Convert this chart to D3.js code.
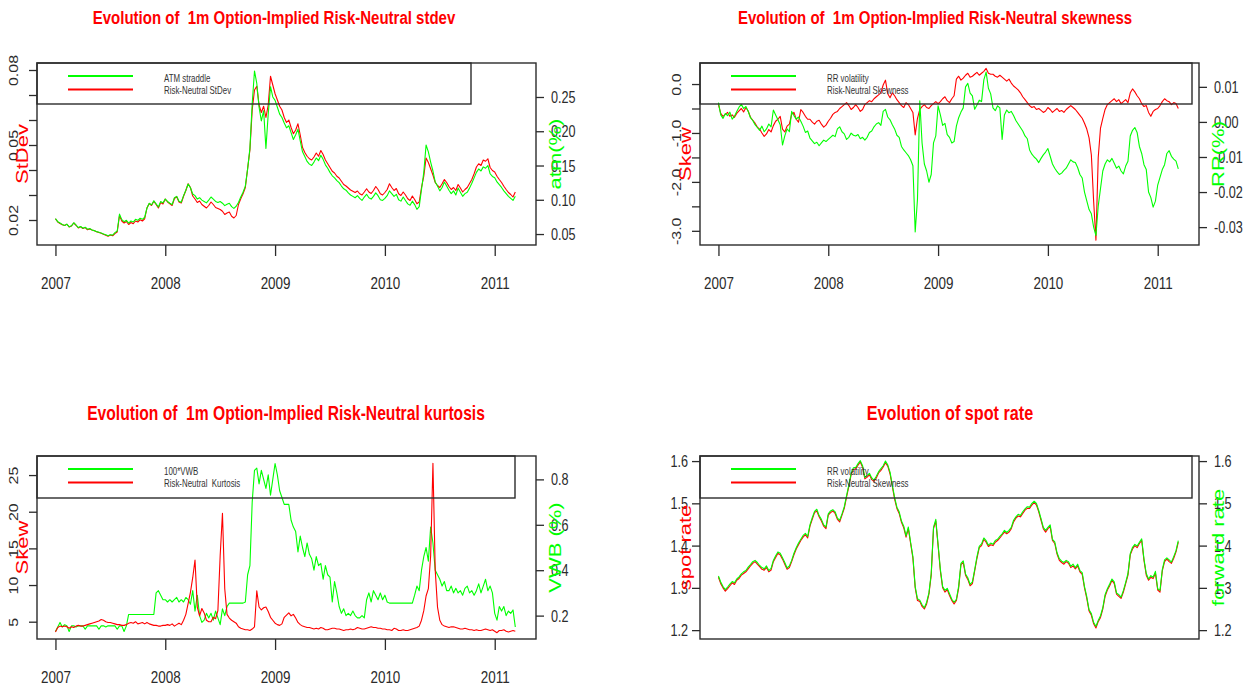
<!DOCTYPE html>
<html>
<head>
<meta charset="utf-8">
<script src="https://cdn.jsdelivr.net/npm/d3@7"></script>
<style>
  body { margin: 0; background: #fff; }
</style>
</head>
<body>
<div id="viz"></div>
<script>
// weekly readings (4 per month), Jan 2007 .. mid Mar 2011, one row per year
const stdevRN = [
  0.0205, 0.0192, 0.0186, 0.0181, 0.0178, 0.0183, 0.0172, 0.0176, 0.0188, 0.0179, 0.0168, 0.0173,
  0.0166, 0.0170, 0.0161, 0.0164, 0.0160, 0.0157, 0.0153, 0.0150, 0.0147, 0.0143, 0.0139, 0.0135,
  0.0140, 0.0137, 0.0146, 0.0152, 0.0218, 0.0196, 0.0188, 0.0194, 0.0182, 0.0190, 0.0185, 0.0196,
  0.0192, 0.0201, 0.0196, 0.0205, 0.0248, 0.0266, 0.0258, 0.0275, 0.0262, 0.0248, 0.0270, 0.0264,
  0.0284, 0.0272, 0.0265, 0.0258, 0.0286, 0.0293, 0.0272, 0.0268, 0.0295, 0.0318, 0.0345, 0.0330,
  0.0296, 0.0284, 0.0270, 0.0276, 0.0262, 0.0255, 0.0248, 0.0258, 0.0272, 0.0262, 0.0250, 0.0246,
  0.0242, 0.0235, 0.0222, 0.0228, 0.0232, 0.0215, 0.0208, 0.0218, 0.0262, 0.0285, 0.0305, 0.0330,
  0.0405, 0.0480, 0.0640, 0.0720, 0.0735, 0.0660, 0.0630, 0.0655, 0.0610, 0.0660, 0.0775, 0.0740,
  0.0705, 0.0680, 0.0655, 0.0640, 0.0610, 0.0590, 0.0600, 0.0570, 0.0545, 0.0560, 0.0585, 0.0540,
  0.0490, 0.0470, 0.0455, 0.0445, 0.0440, 0.0452, 0.0468, 0.0455, 0.0478, 0.0462, 0.0440, 0.0425,
  0.0410, 0.0395, 0.0388, 0.0375, 0.0368, 0.0355, 0.0342, 0.0336, 0.0328, 0.0320, 0.0315, 0.0310,
  0.0316, 0.0305, 0.0300, 0.0312, 0.0325, 0.0312, 0.0306, 0.0318, 0.0334, 0.0322, 0.0305, 0.0300,
  0.0310, 0.0322, 0.0345, 0.0330, 0.0318, 0.0326, 0.0305, 0.0298, 0.0312, 0.0300, 0.0285, 0.0278,
  0.0296, 0.0282, 0.0265, 0.0272, 0.0330, 0.0375, 0.0448, 0.0430, 0.0405, 0.0380, 0.0350, 0.0338,
  0.0330, 0.0345, 0.0362, 0.0350, 0.0334, 0.0322, 0.0330, 0.0318, 0.0342, 0.0328, 0.0312, 0.0322,
  0.0330, 0.0346, 0.0362, 0.0385, 0.0412, 0.0425, 0.0418, 0.0440, 0.0435, 0.0445, 0.0410, 0.0398,
  0.0392, 0.0375, 0.0362, 0.0350, 0.0335, 0.0322, 0.0310, 0.0302, 0.0292, 0.0312
];
const atmStraddle = [
  0.0725, 0.0680, 0.0660, 0.0640, 0.0625, 0.0645, 0.0605, 0.0620, 0.0665, 0.0630, 0.0595, 0.0610,
  0.0585, 0.0600, 0.0570, 0.0580, 0.0560, 0.0550, 0.0535, 0.0525, 0.0515, 0.0500, 0.0490, 0.0475,
  0.0490, 0.0485, 0.0520, 0.0545, 0.0790, 0.0710, 0.0680, 0.0700, 0.0660, 0.0690, 0.0675, 0.0715,
  0.0700, 0.0730, 0.0715, 0.0745, 0.0880, 0.0950, 0.0925, 0.0985, 0.0940, 0.0895, 0.0975, 0.0955,
  0.1010, 0.0975, 0.0950, 0.0930, 0.1030, 0.1050, 0.0980, 0.0965, 0.1060, 0.1140, 0.1230, 0.1175,
  0.1085, 0.1060, 0.1010, 0.1030, 0.0995, 0.0975, 0.0955, 0.0995, 0.1040, 0.1010, 0.0975, 0.0960,
  0.0975, 0.0950, 0.0915, 0.0935, 0.0950, 0.0900, 0.0875, 0.0905, 0.0960, 0.1040, 0.1110, 0.1200,
  0.1450, 0.1750, 0.2400, 0.2880, 0.2700, 0.2350, 0.2150, 0.2300, 0.1750, 0.2250, 0.2650, 0.2500,
  0.2450, 0.2350, 0.2250, 0.2200, 0.2120, 0.2050, 0.2080, 0.1980, 0.1880, 0.1950, 0.2030, 0.1860,
  0.1700, 0.1630, 0.1560, 0.1520, 0.1500, 0.1550, 0.1610, 0.1570, 0.1650, 0.1590, 0.1510, 0.1460,
  0.1400, 0.1350, 0.1320, 0.1280, 0.1250, 0.1200, 0.1160, 0.1140, 0.1100, 0.1070, 0.1050, 0.1030,
  0.1060, 0.1020, 0.0990, 0.1040, 0.1080, 0.1030, 0.1010, 0.1050, 0.1100, 0.1060, 0.1000, 0.0990,
  0.1020, 0.1060, 0.1130, 0.1090, 0.1050, 0.1080, 0.1000, 0.0980, 0.1040, 0.0990, 0.0940, 0.0920,
  0.0980, 0.0930, 0.0860, 0.0900, 0.1150, 0.1400, 0.1800, 0.1700, 0.1550, 0.1420, 0.1260, 0.1200,
  0.1130, 0.1180, 0.1260, 0.1200, 0.1140, 0.1090, 0.1130, 0.1070, 0.1170, 0.1110, 0.1050, 0.1090,
  0.1110, 0.1170, 0.1240, 0.1320, 0.1400, 0.1450, 0.1420, 0.1480, 0.1460, 0.1500, 0.1380, 0.1340,
  0.1320, 0.1260, 0.1220, 0.1180, 0.1130, 0.1090, 0.1050, 0.1020, 0.0990, 0.1050
];
const skewRN = [
  -0.42, -0.60, -0.66, -0.62, -0.58, -0.66, -0.63, -0.68, -0.60, -0.55, -0.50, -0.57,
  -0.48, -0.55, -0.68, -0.74, -0.80, -0.88, -0.92, -1.00, -1.07, -1.02, -0.93, -0.98,
  -0.85, -0.76, -0.72, -0.66, -0.92, -0.98, -0.86, -0.82, -0.62, -0.58, -0.72, -0.78,
  -0.52, -0.58, -0.66, -0.72, -0.72, -0.78, -0.82, -0.76, -0.74, -0.82, -0.88, -0.84,
  -0.76, -0.70, -0.62, -0.58, -0.56, -0.50, -0.46, -0.42, -0.38, -0.44, -0.52, -0.48,
  -0.42, -0.48, -0.56, -0.52, -0.42, -0.38, -0.34, -0.36, -0.30, -0.26, -0.22, -0.18,
  -0.02, 0.08, -0.20, -0.28, -0.18, -0.24, -0.32, -0.38, -0.44, -0.48, -0.38, -0.42,
  -0.50, -0.58, -1.04, -0.70, -0.52, -0.46, -0.42, -0.48, -0.50, -0.44, -0.40, -0.36,
  -0.40, -0.36, -0.30, -0.26, -0.34, -0.38, -0.30, -0.24, 0.10, 0.16, 0.08, 0.12,
  0.18, 0.22, 0.14, 0.16, 0.20, 0.24, 0.18, 0.22, 0.26, 0.32, 0.22, 0.20,
  0.20, 0.16, 0.14, 0.18, 0.14, 0.10, 0.06, 0.10, 0.02, -0.04, -0.08, -0.12,
  -0.18, -0.26, -0.32, -0.38, -0.44, -0.48, -0.46, -0.52, -0.50, -0.54, -0.58, -0.55,
  -0.48, -0.52, -0.58, -0.54, -0.50, -0.56, -0.54, -0.58, -0.52, -0.48, -0.44, -0.48,
  -0.52, -0.58, -0.64, -0.70, -0.80, -0.92, -1.10, -1.45, -2.40, -3.19, -1.50, -0.90,
  -0.70, -0.52, -0.42, -0.38, -0.34, -0.30, -0.36, -0.32, -0.40, -0.36, -0.32, -0.38,
  -0.18, -0.10, -0.16, -0.24, -0.30, -0.40, -0.46, -0.44, -0.58, -0.66, -0.56, -0.52,
  -0.50, -0.44, -0.36, -0.30, -0.34, -0.36, -0.42, -0.38, -0.40, -0.50
];
const rrVol = [
  0.0055, 0.0020, 0.0010, 0.0024, 0.0018, 0.0028, 0.0008, 0.0016, 0.0030, 0.0042, 0.0050, 0.0038,
  0.0044, 0.0030, 0.0012, 0.0004, -0.0008, -0.0016, -0.0024, -0.0012, -0.0028, -0.0020, -0.0006, -0.0014,
  0.0034, 0.0020, 0.0006, -0.0008, -0.0066, -0.0040, -0.0020, -0.0028, 0.0030, 0.0018, 0.0008, 0.0014,
  0.0002, -0.0012, -0.0030, -0.0026, -0.0046, -0.0054, -0.0062, -0.0058, -0.0068, -0.0060, -0.0052, -0.0056,
  -0.0050, -0.0044, -0.0038, -0.0042, -0.0020, -0.0014, -0.0028, -0.0034, -0.0050, -0.0044, -0.0032, -0.0038,
  -0.0040, -0.0036, -0.0048, -0.0044, -0.0052, -0.0044, -0.0030, -0.0026, -0.0014, -0.0006, -0.0002, -0.0010,
  0.0030, 0.0036, 0.0014, 0.0006, -0.0008, -0.0020, -0.0038, -0.0044, -0.0070, -0.0080, -0.0088, -0.0096,
  -0.0108, -0.0125, -0.0314, -0.0220, 0.0060, -0.0060, -0.0120, -0.0140, -0.0172, -0.0150, -0.0060, -0.0040,
  0.0046, 0.0020, -0.0010, -0.0004, -0.0036, -0.0044, -0.0060, -0.0056, -0.0012, 0.0012, 0.0028, 0.0040,
  0.0100, 0.0110, 0.0082, 0.0074, 0.0036, 0.0048, 0.0062, 0.0058, 0.0120, 0.0142, 0.0096, 0.0080,
  0.0040, 0.0032, 0.0046, 0.0040, -0.0050, 0.0020, 0.0034, 0.0026, 0.0030, 0.0018, 0.0004, -0.0006,
  -0.0016, -0.0026, -0.0040, -0.0048, -0.0080, -0.0092, -0.0100, -0.0106, -0.0116, -0.0104, -0.0094, -0.0086,
  -0.0076, -0.0098, -0.0120, -0.0132, -0.0142, -0.0150, -0.0146, -0.0138, -0.0132, -0.0120, -0.0108, -0.0114,
  -0.0116, -0.0130, -0.0150, -0.0160, -0.0200, -0.0225, -0.0250, -0.0262, -0.0300, -0.0324, -0.0240, -0.0190,
  -0.0140, -0.0120, -0.0108, -0.0114, -0.0104, -0.0118, -0.0132, -0.0126, -0.0140, -0.0148, -0.0126, -0.0112,
  -0.0040, -0.0024, -0.0016, -0.0030, -0.0070, -0.0090, -0.0122, -0.0136, -0.0200, -0.0216, -0.0243, -0.0226,
  -0.0180, -0.0158, -0.0136, -0.0122, -0.0090, -0.0082, -0.0098, -0.0106, -0.0112, -0.0134
];
const kurtRN = [
  3.6, 4.2, 4.4, 4.3, 4.4, 4.3, 4.1, 4.3, 4.2, 4.4, 4.5, 4.4,
  4.4, 4.5, 4.6, 4.7, 4.8, 4.9, 5.0, 5.1, 5.3, 5.2, 5.0, 4.9,
  4.9, 4.8, 4.7, 4.6, 4.6, 4.5, 4.5, 4.6, 4.8, 4.9, 4.8, 5.0,
  4.7, 4.8, 4.9, 4.7, 4.9, 4.7, 4.6, 4.5, 4.5, 4.4, 4.4, 4.5,
  4.5, 4.6, 4.5, 4.7, 4.4, 4.6, 4.8, 4.6, 5.2, 6.0, 7.5, 9.0,
  11.0, 13.4, 7.0, 5.8, 6.8, 6.2, 5.2, 5.0, 5.0, 5.6, 5.4, 6.5,
  14.0, 19.8, 9.5, 6.0, 5.5, 5.2, 5.0, 4.8, 4.3, 4.1, 4.0, 3.9,
  3.9, 3.8, 4.0, 4.3, 9.2, 7.0, 6.6, 6.9, 7.0, 6.4, 5.6, 5.2,
  4.8, 4.6, 4.5, 4.7, 5.6, 5.9, 6.2, 5.8, 6.0, 5.5, 4.9, 4.6,
  4.4, 4.3, 4.2, 4.2, 4.1, 4.0, 4.1, 4.0, 4.2, 4.1, 3.9, 3.9,
  4.0, 4.1, 4.1, 4.0, 4.0, 3.9, 3.8, 3.9, 3.9, 4.0, 3.9, 4.0,
  4.2, 4.1, 4.0, 4.0, 4.1, 4.2, 4.3, 4.2, 4.2, 4.1, 4.1, 4.0,
  4.0, 3.9, 3.9, 3.8, 4.1, 4.0, 3.8, 3.8, 3.9, 3.8, 3.8, 3.9,
  4.0, 4.1, 4.2, 4.4, 5.2, 6.5, 8.5, 9.5, 14.0, 26.6, 12.0, 7.0,
  5.2, 4.6, 4.4, 4.3, 4.2, 4.3, 4.3, 4.2, 4.1, 4.0, 4.0, 4.1,
  4.0, 3.9, 3.9, 3.8, 3.9, 3.8, 3.8, 3.9, 4.0, 3.9, 3.8, 3.9,
  3.7, 3.5, 3.8, 3.8, 3.9, 3.7, 3.6, 3.7, 3.8, 3.7
];
const vwb = [
  0.13, 0.15, 0.17, 0.15, 0.16, 0.155, 0.13, 0.155, 0.155, 0.15, 0.155, 0.155,
  0.155, 0.14, 0.155, 0.155, 0.155, 0.155, 0.155, 0.14, 0.155, 0.155, 0.15, 0.155,
  0.155, 0.155, 0.155, 0.14, 0.155, 0.155, 0.13, 0.155, 0.205, 0.205, 0.205, 0.205,
  0.205, 0.205, 0.205, 0.205, 0.205, 0.205, 0.205, 0.205, 0.30, 0.31, 0.29, 0.27,
  0.27, 0.26, 0.27, 0.26, 0.27, 0.28, 0.26, 0.27, 0.26, 0.28, 0.27, 0.25,
  0.31, 0.22, 0.29, 0.20, 0.17, 0.18, 0.21, 0.19, 0.21, 0.18, 0.22, 0.19,
  0.16, 0.23, 0.20, 0.24, 0.255, 0.255, 0.255, 0.255, 0.255, 0.255, 0.255, 0.26,
  0.38, 0.42, 0.70, 0.84, 0.85, 0.78, 0.84, 0.80, 0.76, 0.82, 0.73, 0.80,
  0.87, 0.82, 0.75, 0.72, 0.69, 0.69, 0.69, 0.62, 0.59, 0.57, 0.48, 0.55,
  0.50, 0.46, 0.52, 0.47, 0.45, 0.40, 0.46, 0.42, 0.43, 0.36, 0.42, 0.38,
  0.37, 0.26, 0.35, 0.30, 0.24, 0.21, 0.23, 0.20, 0.21, 0.20, 0.22, 0.20,
  0.19, 0.19, 0.20, 0.19, 0.27, 0.30, 0.26, 0.31, 0.29, 0.27, 0.30, 0.27,
  0.29, 0.26, 0.255, 0.255, 0.255, 0.255, 0.255, 0.255, 0.255, 0.255, 0.255, 0.255,
  0.255, 0.29, 0.33, 0.31, 0.40, 0.46, 0.50, 0.44, 0.59, 0.52, 0.40, 0.38,
  0.36, 0.33, 0.35, 0.31, 0.31, 0.33, 0.30, 0.32, 0.30, 0.31, 0.29, 0.32,
  0.33, 0.30, 0.31, 0.29, 0.31, 0.34, 0.30, 0.33, 0.36, 0.31, 0.33, 0.30,
  0.21, 0.18, 0.24, 0.22, 0.24, 0.20, 0.22, 0.21, 0.225, 0.15
];
const spotRate = [
  1.325, 1.310, 1.300, 1.292, 1.298, 1.305, 1.312, 1.308, 1.318, 1.322, 1.330, 1.334,
  1.338, 1.345, 1.352, 1.358, 1.362, 1.356, 1.350, 1.344, 1.342, 1.348, 1.338, 1.342,
  1.362, 1.372, 1.382, 1.378, 1.368, 1.356, 1.344, 1.348, 1.362, 1.378, 1.392, 1.402,
  1.412, 1.420, 1.426, 1.418, 1.446, 1.462, 1.478, 1.482, 1.468, 1.458, 1.446, 1.440,
  1.472, 1.478, 1.482, 1.476, 1.462, 1.456, 1.472, 1.488, 1.515, 1.540, 1.568, 1.580,
  1.582, 1.590, 1.598, 1.585, 1.558, 1.562, 1.568, 1.556, 1.552, 1.560, 1.572, 1.578,
  1.586, 1.596, 1.588, 1.570, 1.540, 1.510, 1.488, 1.476, 1.455, 1.442, 1.420, 1.440,
  1.405, 1.370, 1.300, 1.270, 1.268, 1.256, 1.250, 1.262, 1.285, 1.330, 1.440, 1.458,
  1.400, 1.340, 1.300, 1.290, 1.296, 1.282, 1.270, 1.262, 1.270, 1.300, 1.355, 1.360,
  1.330, 1.320, 1.305, 1.310, 1.340, 1.370, 1.395, 1.400, 1.415, 1.408, 1.398, 1.402,
  1.400, 1.408, 1.412, 1.418, 1.425, 1.432, 1.428, 1.432, 1.440, 1.456, 1.465, 1.470,
  1.468, 1.476, 1.484, 1.488, 1.488, 1.496, 1.502, 1.496, 1.480, 1.460, 1.440, 1.432,
  1.440, 1.445, 1.412, 1.405, 1.380, 1.365, 1.360, 1.356, 1.362, 1.358, 1.348, 1.352,
  1.345, 1.352, 1.338, 1.332, 1.300, 1.275, 1.245, 1.235, 1.215, 1.205, 1.220, 1.230,
  1.250, 1.280, 1.295, 1.305, 1.318, 1.310, 1.285, 1.280, 1.275, 1.290, 1.310, 1.330,
  1.378, 1.392, 1.400, 1.395, 1.405, 1.412, 1.365, 1.330, 1.318, 1.325, 1.322, 1.335,
  1.295, 1.290, 1.340, 1.362, 1.368, 1.362, 1.358, 1.370, 1.385, 1.408
];
const fwdRate = [
  1.328, 1.314, 1.303, 1.296, 1.302, 1.309, 1.315, 1.312, 1.321, 1.326, 1.333, 1.338,
  1.341, 1.349, 1.355, 1.362, 1.365, 1.360, 1.353, 1.348, 1.345, 1.352, 1.341, 1.346,
  1.365, 1.376, 1.385, 1.382, 1.371, 1.360, 1.347, 1.352, 1.365, 1.382, 1.395, 1.406,
  1.415, 1.424, 1.429, 1.422, 1.449, 1.466, 1.481, 1.486, 1.471, 1.462, 1.449, 1.444,
  1.475, 1.482, 1.485, 1.480, 1.465, 1.460, 1.475, 1.492, 1.518, 1.544, 1.571, 1.584,
  1.585, 1.594, 1.601, 1.589, 1.561, 1.566, 1.571, 1.560, 1.555, 1.564, 1.575, 1.582,
  1.589, 1.600, 1.591, 1.574, 1.543, 1.514, 1.491, 1.480, 1.458, 1.446, 1.423, 1.444,
  1.408, 1.374, 1.303, 1.274, 1.271, 1.260, 1.253, 1.266, 1.288, 1.334, 1.443, 1.462,
  1.403, 1.344, 1.303, 1.294, 1.299, 1.286, 1.273, 1.266, 1.273, 1.304, 1.358, 1.364,
  1.333, 1.324, 1.308, 1.314, 1.343, 1.374, 1.398, 1.404, 1.418, 1.412, 1.401, 1.406,
  1.403, 1.412, 1.415, 1.422, 1.428, 1.436, 1.431, 1.436, 1.443, 1.460, 1.468, 1.474,
  1.471, 1.480, 1.487, 1.492, 1.491, 1.500, 1.505, 1.500, 1.483, 1.464, 1.443, 1.436,
  1.443, 1.449, 1.415, 1.409, 1.383, 1.369, 1.363, 1.360, 1.365, 1.362, 1.351, 1.356,
  1.348, 1.356, 1.341, 1.336, 1.303, 1.279, 1.248, 1.239, 1.218, 1.209, 1.223, 1.234,
  1.253, 1.284, 1.298, 1.309, 1.321, 1.314, 1.288, 1.284, 1.278, 1.294, 1.313, 1.334,
  1.381, 1.396, 1.403, 1.399, 1.408, 1.416, 1.368, 1.334, 1.321, 1.329, 1.325, 1.339,
  1.298, 1.294, 1.343, 1.366, 1.371, 1.366, 1.361, 1.374, 1.388, 1.412
];

// observation dates as decimal years (weekly grid)
const dates = stdevRN.map((d, i) => 2007 + i / 48);

// axis ticks and labels
const yearTicks = [2007, 2008, 2009, 2010, 2011];
const yearLabels = ['2007', '2008', '2009', '2010', '2011'];
const stdevTicks = [0.02, 0.03, 0.04, 0.05, 0.06, 0.07, 0.08];
const stdevLabels = ['0.02', '', '', '0.05', '', '', '0.08'];
const atmTicks = [0.05, 0.10, 0.15, 0.20, 0.25];
const atmLabels = ['0.05', '0.10', '0.15', '0.20', '0.25'];
const skewTicks = [-3.0, -2.5, -2.0, -1.5, -1.0, -0.5, 0.0];
const skewLabels = ['-3.0', '', '-2.0', '', '-1.0', '', '0.0'];
const rrTicks = [-0.03, -0.02, -0.01, 0.00, 0.01];
const rrLabels = ['-0.03', '-0.02', '-0.01', '0.00', '0.01'];
const kurtTicks = [5, 10, 15, 20, 25];
const kurtLabels = ['5', '10', '15', '20', '25'];
const vwbTicks = [0.2, 0.4, 0.6, 0.8];
const vwbLabels = ['0.2', '0.4', '0.6', '0.8'];
const rateTicks = [1.2, 1.3, 1.4, 1.5, 1.6];
const rateLabels = ['1.2', '1.3', '1.4', '1.5', '1.6'];

const RED = '#ff0000', GREEN = '#00ff00', INK = '#2b2b2b';
const SX = 0.79; // the whole figure is squeezed sideways
const FONT = '"Liberation Sans", Arial, sans-serif';

const panels = [
  { l: 37, r: 536, t: 63, b: 245, legR: 471, legB: 104,
    title: 'Evolution of  1m Option-Implied Risk-Neutral stdev', tx: 274, ty: 18, tsize: 19,
    red: stdevRN, green: atmStraddle, greenOnTop: true,
    left: { domain: [0.0100, 0.0828], ticks: stdevTicks, labels: stdevLabels, rot: true, name: 'StDev' },
    right: { domain: [0.034, 0.2996], ticks: atmTicks, labels: atmLabels, name: 'atm(%)' },
    leg: ['ATM straddle', 'Risk-Neutral StDev'], xaxis: true },
  { l: 700, r: 1199, t: 63, b: 245, legR: 1192, legB: 104,
    title: 'Evolution of  1m Option-Implied Risk-Neutral skewness', tx: 935, ty: 18, tsize: 19,
    red: skewRN, green: rrVol, greenOnTop: true,
    left: { domain: [-3.29, 0.43], ticks: skewTicks, labels: skewLabels, rot: true, name: 'Skew' },
    right: { domain: [-0.0351, 0.0168], ticks: rrTicks, labels: rrLabels, name: 'RR(%)' },
    leg: ['RR volatility', 'Risk-Neutral Skewness'], xaxis: true },
  { l: 37, r: 536, t: 456, b: 639, legR: 515, legB: 498,
    title: 'Evolution of  1m Option-Implied Risk-Neutral kurtosis', tx: 286, ty: 413, tsize: 19.8,
    red: kurtRN, green: vwb, greenOnTop: false,
    left: { domain: [2.64, 27.6], ticks: kurtTicks, labels: kurtLabels, rot: true, name: 'Skew' },
    right: { domain: [0.097, 0.903], ticks: vwbTicks, labels: vwbLabels, name: 'VWB (%)' },
    leg: ['100*VWB', 'Risk-Neutral  Kurtosis'], xaxis: true },
  { l: 700, r: 1199, t: 456, b: 639, legR: 1192, legB: 498,
    title: 'Evolution of spot rate', tx: 950, ty: 413, tsize: 20.5,
    red: spotRate, green: fwdRate, greenOnTop: true,
    left: { domain: [1.179, 1.612], ticks: rateTicks, labels: rateLabels, rot: false, name: 'spot rate' },
    right: { domain: [1.179, 1.612], ticks: rateTicks, labels: rateLabels, name: 'forward rate' },
    leg: ['RR volatility', 'Risk-Neutral Skewness'], xaxis: false }
];

const svg = d3.select('#viz').append('svg')
  .attr('width', 1255)
  .attr('height', 688)
  .style('display', 'block');

function label(g, x, y, s, o) {
  return g.append('text')
    .attr('transform', `translate(${x},${y}) scale(${SX},1)` + (o.rot ? ' rotate(-90)' : ''))
    .attr('text-anchor', o.anchor || 'middle')
    .attr('dominant-baseline', 'central')
    .attr('fill', o.color || INK)
    .style('font-family', FONT)
    .style('font-size', o.size + 'px')
    .style('font-weight', o.weight || 'normal')
    .style('white-space', 'pre')
    .text(s);
}

function styleAxis(g) {
  g.attr('font-family', null).attr('font-size', null);
  g.select('.domain').remove();
  g.selectAll('.tick line').attr('stroke', INK).attr('stroke-width', 1.3);
  g.selectAll('.tick text')
    .attr('x', null).attr('y', null).attr('dy', null)
    .attr('dominant-baseline', 'central')
    .attr('fill', INK)
    .style('font-family', FONT);
}

panels.forEach(p => {
  const g = svg.append('g');
  const x = d3.scaleLinear().domain([2006.832, 2011.376]).range([p.l, p.r]);
  const yL = d3.scaleLinear().domain(p.left.domain).range([p.b, p.t]);
  const yR = d3.scaleLinear().domain(p.right.domain).range([p.b, p.t]);

  const lineL = d3.line().x((d, i) => x(dates[i])).y(d => yL(d));
  const lineR = d3.line().x((d, i) => x(dates[i])).y(d => yR(d));

  const drawRed = () => g.append('path').datum(p.red)
    .attr('d', lineL).attr('fill', 'none')
    .attr('stroke', RED).attr('stroke-width', 1.1).attr('stroke-linejoin', 'round');
  const drawGreen = () => g.append('path').datum(p.green)
    .attr('d', lineR).attr('fill', 'none')
    .attr('stroke', GREEN).attr('stroke-width', 1.1).attr('stroke-linejoin', 'round');
  if (p.greenOnTop) { drawRed(); drawGreen(); } else { drawGreen(); drawRed(); }

  // left axis
  const gL = g.append('g').attr('transform', `translate(${p.l},0)`)
    .call(d3.axisLeft(yL).tickValues(p.left.ticks).tickSize(8)
      .tickFormat((d, i) => p.left.labels[i]));
  styleAxis(gL);
  gL.selectAll('.tick text')
    .style('font-size', '16px')
    .attr('text-anchor', p.left.rot ? 'middle' : 'end')
    .attr('transform', p.left.rot ? `translate(-23,0) scale(${SX},1) rotate(-90)` : `translate(-12,0) scale(${SX},1)`);

  // right axis
  const gR = g.append('g').attr('transform', `translate(${p.r},0)`)
    .call(d3.axisRight(yR).tickValues(p.right.ticks).tickSize(8)
      .tickFormat((d, i) => p.right.labels[i]));
  styleAxis(gR);
  gR.selectAll('.tick text')
    .style('font-size', '16px')
    .attr('text-anchor', 'start')
    .attr('transform', `translate(15,0) scale(${SX},1)`);

  // bottom axis
  if (p.xaxis) {
    const gB = g.append('g').attr('transform', `translate(0,${p.b})`)
      .call(d3.axisBottom(x).tickValues(yearTicks).tickSize(11)
        .tickFormat((d, i) => yearLabels[i]));
    styleAxis(gB);
    gB.selectAll('.tick text')
      .style('font-size', '17px')
      .attr('text-anchor', 'middle')
      .attr('transform', `translate(0,38) scale(${SX},1)`);
  }

  // frame
  g.append('rect')
    .attr('x', p.l).attr('y', p.t)
    .attr('width', p.r - p.l).attr('height', p.b - p.t)
    .attr('fill', 'none').attr('stroke', INK).attr('stroke-width', 1.4);

  // legend
  g.append('rect')
    .attr('x', p.l).attr('y', p.t)
    .attr('width', p.legR - p.l).attr('height', p.legB - p.t)
    .attr('fill', 'none').attr('stroke', INK).attr('stroke-width', 1.4);
  [GREEN, RED].forEach((c, k) => {
    g.append('line')
      .attr('x1', p.l + 31).attr('x2', p.l + 96)
      .attr('y1', p.t + 13 + k * 13.5).attr('y2', p.t + 13 + k * 13.5)
      .attr('stroke', c).attr('stroke-width', 2);
    label(g, p.l + 127, p.t + 15.5 + k * 12.5, p.leg[k], { size: 10, anchor: 'start', color: '#333' });
  });

  // axis names and title
  label(g, p.l - 15, (p.t + p.b) / 2, p.left.name, { size: 22, rot: true, color: RED });
  label(g, p.r + 19, (p.t + p.b) / 2, p.right.name, { size: 22, rot: true, color: GREEN });
  label(g, p.tx, p.ty, p.title, { size: p.tsize, weight: 'bold', color: RED });
});
</script>
</body>
</html>
